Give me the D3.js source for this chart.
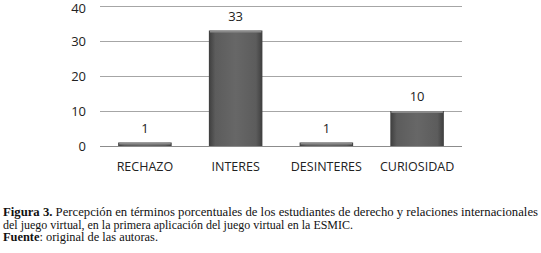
<!DOCTYPE html>
<html>
<head>
<meta charset="utf-8">
<script src="https://cdn.jsdelivr.net/npm/d3@7"></script>
<style>
  body { margin: 0; background: #fff; }
</style>
</head>
<body>
<script>
var categories = ['RECHAZO', 'INTERES', 'DESINTERES', 'CURIOSIDAD']
var values = [1, 33, 1, 10]
var yTicks = [0, 10, 20, 30, 40]

var svgWidth = 541, svgHeight = 253
var margin = {top: 6, left: 100, right: 79}
var plotBottom = 146

var svg = d3.select('body').append('svg')
    .attr('width', svgWidth)
    .attr('height', svgHeight)
    .style('display', 'block')

var defs = svg.append('defs')
var grad = defs.append('linearGradient').attr('id', 'barGrad')
    .attr('x1', 0).attr('x2', 1).attr('y1', 0).attr('y2', 0)
grad.append('stop').attr('offset', '0%').attr('stop-color', '#3e3e3e')
grad.append('stop').attr('offset', '12%').attr('stop-color', '#5c5c5c')
grad.append('stop').attr('offset', '50%').attr('stop-color', '#676767')
grad.append('stop').attr('offset', '88%').attr('stop-color', '#5c5c5c')
grad.append('stop').attr('offset', '100%').attr('stop-color', '#3e3e3e')

var xScale = d3.scaleBand()
    .domain(categories)
    .range([margin.left, svgWidth - margin.right])
    .paddingInner(0.41)
    .paddingOuter(0.2)

var yScale = d3.scaleLinear()
    .domain([0, 40])
    .range([plotBottom, margin.top])

// gridlines
svg.append('g').selectAll('line')
    .data(yTicks)
    .enter().append('line')
      .attr('x1', margin.left)
      .attr('x2', svgWidth - margin.right)
      .attr('y1', function(d) { return Math.round(yScale(d)) + 0.5 })
      .attr('y2', function(d) { return Math.round(yScale(d)) + 0.5 })
      .attr('stroke', function(d) { return d == 0 ? '#8c8c8c' : '#a6a6a6' })
      .attr('stroke-width', 1)

// y tick labels
svg.append('g').selectAll('text')
    .data(yTicks)
    .enter().append('text')
      .attr('x', 86)
      .attr('y', function(d) { return Math.max(yScale(d) + 2, 10) })
      .attr('dominant-baseline', 'middle')
      .attr('text-anchor', 'end')
      .attr('font-family', 'Open Sans, sans-serif')
      .attr('font-size', 13)
      .attr('fill', '#222')
      .text(function(d) { return d })

var data = categories.map(function(c, i) { return {key: c, value: values[i]} })

var bars = svg.append('g').selectAll('g')
    .data(data)
    .enter().append('g')

bars.append('rect')
    .attr('x', function(d) { return xScale(d.key) })
    .attr('y', function(d) { return yScale(d.value) })
    .attr('width', xScale.bandwidth())
    .attr('height', function(d) { return plotBottom - yScale(d.value) })
    .attr('fill', 'url(#barGrad)')

// lighter top bevel
bars.append('rect')
    .attr('x', function(d) { return xScale(d.key) + 1 })
    .attr('y', function(d) { return yScale(d.value) })
    .attr('width', xScale.bandwidth() - 2)
    .attr('height', function(d) { return Math.min(2, plotBottom - yScale(d.value)) })
    .attr('fill', '#8a8a8a')

// value labels
bars.append('text')
    .attr('x', function(d) { return xScale(d.key) + xScale.bandwidth() / 2 })
    .attr('y', function(d) { return yScale(d.value) - 10 })
    .attr('text-anchor', 'middle')
    .attr('font-family', 'Open Sans, sans-serif')
    .attr('font-size', 13)
    .attr('fill', '#222')
    .text(function(d) { return d.value })

// category labels
svg.append('g').selectAll('text')
    .data(categories)
    .enter().append('text')
      .attr('x', function(d) { return xScale(d) + xScale.bandwidth() / 2 })
      .attr('y', 171)
      .attr('text-anchor', 'middle')
      .attr('font-family', 'Open Sans, sans-serif')
      .attr('font-size', 12.5)
      .attr('fill', '#222')
      .text(function(d) { return d })

// caption
var cap = svg.append('g')
    .attr('font-family', 'Liberation Serif, serif')
    .attr('font-size', 11.5)
    .attr('fill', '#111')

var l1 = cap.append('text').attr('x', 3).attr('y', 216)
    .attr('textLength', 535).attr('lengthAdjust', 'spacingAndGlyphs')
l1.append('tspan').attr('font-weight', 'bold').text('Figura 3.')
l1.append('tspan').text(' Percepción en términos porcentuales de los estudiantes de derecho y relaciones internacionales')

cap.append('text').attr('x', 3).attr('y', 229)
    .attr('textLength', 350).attr('lengthAdjust', 'spacingAndGlyphs')
    .text('del juego virtual, en la primera aplicación del juego virtual en la ESMIC.')

var l3 = cap.append('text').attr('x', 3).attr('y', 241)
    .attr('textLength', 155).attr('lengthAdjust', 'spacingAndGlyphs')
l3.append('tspan').attr('font-weight', 'bold').text('Fuente')
l3.append('tspan').text(': original de las autoras.')
</script>
</body>
</html>
